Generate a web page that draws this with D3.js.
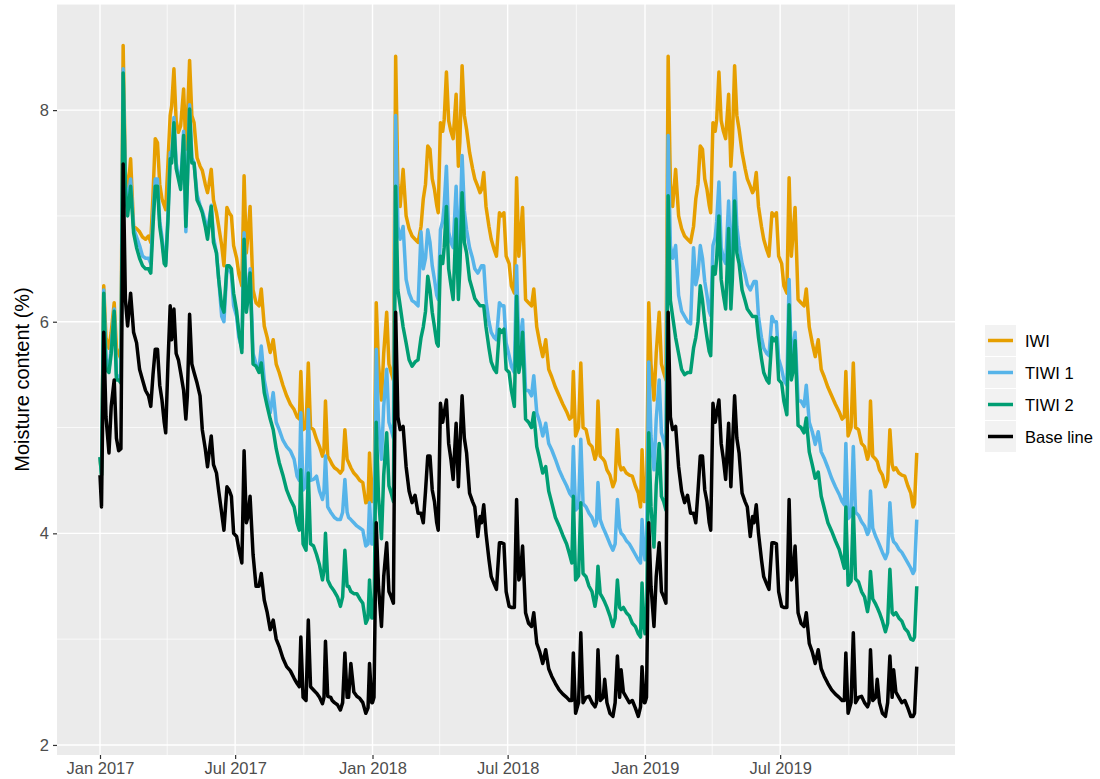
<!DOCTYPE html>
<html><head><meta charset="utf-8">
<script src="https://cdn.jsdelivr.net/npm/d3@7"></script>
<style>
body{margin:0;background:#fff;}
svg{display:block;}
text{font-family:"Liberation Sans",Arial,Helvetica,sans-serif;}
</style>
</head><body>
<svg id="chart" width="1100" height="779"></svg>
<script>
// ---------------- DATA ----------------
const seriesNames = ["IWI", "TIWI 1", "TIWI 2", "Base line"];
const years = [2017, 2018, 2019];
// sampled days of year (0 = Jan 1), shared by every year
const dayOfYear = [0,2,5,8,12,15,19,22,25,28,31,34,37,41,45,49,53,57,61,65,68,71,74,77,80,83,86,88,91,94,96,99,102,105,108,112,115,117,120,123,126,130,134,137,141,144,146,149,152,156,159,163,166,170,173,176,179,183,186,190,193,196,198,201,205,209,213,216,220,224,228,232,236,240,245,250,255,260,264,267,269,272,276,279,282,286,290,294,298,300,302,305,309,311,314,318,322,325,328,331,333,336,340,344,348,352,356,359,361,364];

const iwi = [
// 2017
4.72,4.55,6.34,5.85,5.75,5.90,6.18,5.75,5.70,5.65,
8.61,7.41,7.20,7.54,6.90,6.88,6.85,6.80,6.78,6.81,
6.75,7.20,7.73,7.69,7.30,7.16,7.10,7.06,7.50,7.95,
8.04,8.39,7.90,7.79,7.85,8.20,7.63,7.90,8.47,7.95,
7.88,7.55,7.47,7.43,7.30,7.22,7.30,7.44,7.15,7.03,
6.90,6.72,6.53,7.08,7.03,7.00,6.72,6.60,6.45,6.34,
7.38,6.65,6.80,7.09,6.30,6.18,6.15,6.31,5.96,5.85,
5.71,5.83,5.60,5.52,5.40,5.30,5.22,5.17,5.10,5.08,
5.53,4.98,5.00,5.61,5.00,4.98,4.89,4.82,4.73,4.80,
5.25,4.73,4.68,4.65,4.62,4.60,4.57,4.60,4.98,4.70,
4.67,4.62,4.57,4.54,4.50,4.48,4.29,4.30,4.76,4.30,
// 2018
4.30,4.35,6.18,5.60,5.26,5.70,6.09,5.60,5.52,5.45,
8.51,7.30,7.09,7.44,7.00,6.88,6.81,6.78,6.75,6.90,
7.16,7.30,7.66,7.63,7.35,7.25,7.10,7.03,7.88,7.80,
7.91,8.36,7.90,7.80,7.73,8.15,7.47,7.70,8.42,7.95,
7.82,7.60,7.45,7.35,7.28,7.22,7.25,7.41,7.09,6.90,
6.78,6.68,6.62,7.03,7.00,7.03,6.62,6.55,6.34,6.27,
7.36,6.62,6.80,7.08,6.21,6.18,6.15,6.31,5.95,5.80,
5.67,5.83,5.55,5.48,5.38,5.30,5.22,5.15,5.08,5.10,
5.53,4.92,5.00,5.61,5.00,4.98,4.85,4.82,4.70,4.75,
5.25,4.73,4.70,4.68,4.60,4.55,4.44,4.50,4.98,4.65,
4.60,4.62,4.57,4.55,4.54,4.45,4.38,4.25,4.79,4.30,
// 2019
4.30,4.35,6.18,5.60,5.26,5.70,6.09,5.60,5.52,5.45,
8.51,7.30,7.09,7.44,7.00,6.88,6.81,6.78,6.75,6.90,
7.16,7.30,7.66,7.63,7.35,7.25,7.10,7.03,7.88,7.80,
7.91,8.36,7.90,7.80,7.73,8.15,7.47,7.70,8.42,7.95,
7.82,7.60,7.45,7.35,7.28,7.22,7.25,7.41,7.09,6.90,
6.78,6.68,6.62,7.03,7.00,7.03,6.62,6.55,6.34,6.27,
7.36,6.62,6.80,7.08,6.21,6.18,6.15,6.31,5.95,5.80,
5.67,5.83,5.55,5.48,5.38,5.30,5.22,5.15,5.08,5.10,
5.53,4.92,5.00,5.61,5.00,4.98,4.85,4.82,4.70,4.75,
5.25,4.73,4.70,4.68,4.60,4.55,4.44,4.50,4.98,4.65,
4.60,4.62,4.57,4.55,4.54,4.45,4.38,4.25,4.28,4.76
];

const tiwi1 = [
// 2017
4.72,4.55,6.30,5.65,5.55,5.75,6.12,5.50,5.48,5.45,
8.39,7.32,7.10,7.35,6.88,6.80,6.72,6.62,6.60,6.60,
6.55,7.00,7.35,7.35,6.95,6.80,6.60,6.55,7.00,7.60,
7.55,7.93,7.50,7.38,7.30,7.80,6.85,7.30,8.05,7.55,
7.50,7.20,7.10,7.05,6.95,6.85,6.95,7.10,6.80,6.65,
6.40,6.05,6.00,6.50,6.50,6.45,6.15,6.05,5.85,5.75,
6.84,6.20,6.30,6.50,5.70,5.60,5.55,5.77,5.45,5.30,
5.14,5.33,5.05,4.98,4.88,4.82,4.78,4.70,4.54,4.50,
5.14,4.41,4.45,5.17,4.50,4.51,4.54,4.40,4.32,4.40,
4.73,4.25,4.20,4.18,4.15,4.13,4.13,4.20,4.51,4.20,
4.15,4.13,4.10,4.07,4.05,4.03,3.88,3.90,4.29,3.90,
// 2018
3.90,3.95,5.74,5.05,4.70,5.20,5.55,5.05,4.98,4.90,
7.95,6.90,6.78,6.90,6.40,6.27,6.20,6.18,6.15,6.85,
6.50,6.60,6.87,6.75,6.53,6.40,6.25,6.21,6.87,6.95,
7.10,7.47,6.85,6.75,6.70,7.28,6.65,6.85,7.57,7.05,
6.87,6.70,6.60,6.50,6.46,6.50,6.53,6.53,6.20,6.00,
5.90,5.85,5.83,6.18,6.15,6.15,5.80,5.68,5.58,5.52,
6.53,5.75,5.85,6.02,5.35,5.35,5.30,5.49,5.14,5.05,
4.92,5.04,4.85,4.79,4.70,4.60,4.52,4.45,4.38,4.35,
4.82,4.22,4.25,4.89,4.28,4.25,4.19,4.15,4.07,4.10,
4.48,4.13,4.05,4.02,3.97,3.90,3.84,3.90,4.32,4.05,
4.00,3.98,3.93,3.90,3.85,3.80,3.75,3.72,4.13,3.80,
// 2019
3.75,3.80,5.62,4.92,4.60,5.08,5.45,4.95,4.88,4.80,
7.76,6.72,6.60,6.72,6.25,6.10,6.05,6.00,5.98,6.70,
6.35,6.45,6.72,6.60,6.38,6.25,6.10,6.06,6.72,6.80,
6.95,7.32,6.70,6.60,6.55,7.14,6.50,6.70,7.41,6.90,
6.72,6.55,6.45,6.35,6.30,6.35,6.38,6.38,6.05,5.85,
5.75,5.70,5.68,6.05,6.00,6.00,5.65,5.55,5.45,5.40,
6.40,5.62,5.72,5.90,5.25,5.25,5.20,5.40,5.05,4.96,
4.84,4.96,4.77,4.71,4.62,4.52,4.44,4.37,4.30,4.27,
4.85,4.14,4.17,4.82,4.20,4.17,4.11,4.07,3.99,4.02,
4.40,4.05,3.97,3.94,3.89,3.82,3.76,3.82,4.29,3.97,
3.92,3.90,3.85,3.82,3.77,3.72,3.67,3.62,3.65,4.13
];

const tiwi2 = [
// 2017
4.72,4.55,6.27,5.55,5.52,5.70,6.10,5.45,5.45,5.42,
8.35,7.25,7.00,7.28,6.84,6.70,6.60,6.53,6.50,6.50,
6.46,6.90,7.28,7.28,6.90,6.75,6.55,6.53,6.95,7.54,
7.50,7.88,7.45,7.35,7.25,7.76,6.90,7.30,8.01,7.50,
7.50,7.15,7.09,7.03,6.90,6.78,6.90,7.09,6.75,6.65,
6.40,6.15,6.09,6.53,6.53,6.50,6.27,6.10,5.90,5.71,
6.78,6.09,6.20,6.46,5.60,5.58,5.52,5.61,5.33,5.20,
5.08,4.98,4.80,4.67,4.55,4.41,4.32,4.25,4.10,4.03,
4.60,3.90,3.84,4.57,3.90,3.88,3.80,3.70,3.56,3.65,
4.00,3.56,3.50,3.48,3.45,3.40,3.31,3.40,3.84,3.50,
3.50,3.45,3.43,3.43,3.38,3.34,3.15,3.20,3.56,3.20,
// 2018
3.20,3.25,5.05,4.35,3.95,4.55,4.95,4.45,4.38,4.30,
7.28,6.30,6.15,5.95,5.80,5.64,5.58,5.62,5.64,5.85,
5.95,6.10,6.43,6.30,6.09,5.95,5.80,5.77,6.62,6.55,
6.70,7.09,6.50,6.35,6.21,6.97,6.21,6.50,7.22,6.75,
6.65,6.40,6.30,6.22,6.18,6.15,6.15,6.15,5.95,5.75,
5.62,5.55,5.52,5.93,5.90,5.93,5.55,5.52,5.35,5.20,
6.24,5.52,5.60,5.90,5.08,5.05,5.00,5.14,4.82,4.70,
4.57,4.63,4.40,4.29,4.15,4.07,3.98,3.90,3.80,3.72,
4.35,3.56,3.60,4.29,3.62,3.59,3.50,3.45,3.31,3.40,
3.69,3.43,3.38,3.35,3.30,3.22,3.12,3.20,3.56,3.30,
3.28,3.30,3.25,3.22,3.15,3.12,3.05,3.02,3.53,3.10,
// 2019
3.05,3.10,4.95,4.25,3.87,4.45,4.85,4.35,4.30,4.22,
7.19,6.20,6.05,5.85,5.70,5.55,5.50,5.52,5.52,5.75,
5.85,6.00,6.34,6.20,6.00,5.85,5.72,5.68,6.52,6.45,
6.60,7.00,6.40,6.25,6.12,6.88,6.12,6.40,7.14,6.65,
6.55,6.30,6.20,6.12,6.08,6.05,6.05,6.05,5.85,5.65,
5.52,5.45,5.42,5.85,5.82,5.85,5.45,5.42,5.25,5.12,
6.16,5.45,5.52,5.82,5.02,5.00,4.95,5.09,4.77,4.65,
4.52,4.58,4.35,4.24,4.10,4.02,3.93,3.85,3.75,3.67,
4.25,3.51,3.55,4.24,3.57,3.54,3.45,3.40,3.26,3.35,
3.64,3.38,3.33,3.30,3.25,3.17,3.07,3.15,3.66,3.25,
3.23,3.25,3.20,3.17,3.10,3.07,3.00,2.99,3.02,3.50
];

const baseLine = [
// 2017
4.55,4.25,5.90,5.10,4.76,5.20,5.45,4.90,4.78,4.80,
7.49,6.21,5.96,6.27,5.90,5.80,5.55,5.45,5.35,5.30,
5.20,5.50,5.74,5.74,5.40,5.26,5.05,4.95,5.60,6.15,
5.83,6.12,5.70,5.64,5.52,5.35,5.08,5.30,6.07,5.60,
5.52,5.42,5.30,4.98,4.80,4.63,4.75,4.92,4.65,4.57,
4.40,4.19,4.03,4.44,4.41,4.35,4.00,3.97,3.85,3.72,
4.78,4.10,4.15,4.35,3.80,3.50,3.50,3.62,3.37,3.25,
3.09,3.18,3.00,2.93,2.82,2.74,2.70,2.63,2.58,2.55,
3.02,2.45,2.42,3.18,2.55,2.52,2.49,2.45,2.39,2.45,
2.98,2.46,2.45,2.42,2.40,2.38,2.33,2.40,2.87,2.45,
2.45,2.77,2.50,2.46,2.44,2.40,2.30,2.35,2.77,2.40,
// 2018
2.40,2.45,4.10,3.50,3.12,3.59,3.91,3.45,3.40,3.34,
6.09,5.10,4.98,5.01,4.63,4.40,4.29,4.36,4.19,4.19,
4.10,4.40,4.73,4.73,4.41,4.30,4.10,4.03,5.23,5.05,
5.14,5.26,4.85,4.70,4.51,5.04,4.44,4.80,5.30,4.90,
4.76,4.38,4.30,4.25,3.97,4.16,4.10,4.27,4.00,3.75,
3.59,3.52,3.47,3.91,3.91,3.90,3.45,3.31,3.30,3.30,
4.32,3.56,3.60,3.88,3.25,3.15,3.12,3.25,2.96,2.88,
2.77,2.90,2.72,2.65,2.58,2.52,2.48,2.45,2.42,2.42,
2.87,2.30,2.40,3.06,2.40,2.45,2.46,2.40,2.36,2.40,
2.90,2.42,2.45,2.62,2.40,2.30,2.27,2.40,2.84,2.45,
2.71,2.50,2.45,2.40,2.42,2.35,2.27,2.36,2.74,2.40,
// 2019
2.40,2.45,4.10,3.50,3.12,3.59,3.91,3.45,3.40,3.34,
6.09,5.10,4.98,5.01,4.63,4.40,4.29,4.36,4.19,4.19,
4.10,4.40,4.73,4.73,4.41,4.30,4.10,4.03,5.23,5.05,
5.14,5.26,4.85,4.70,4.51,5.04,4.44,4.80,5.30,4.90,
4.76,4.38,4.30,4.25,3.97,4.16,4.10,4.27,4.00,3.75,
3.59,3.52,3.47,3.91,3.91,3.90,3.45,3.31,3.30,3.30,
4.32,3.56,3.60,3.88,3.25,3.15,3.12,3.25,2.96,2.88,
2.77,2.90,2.72,2.65,2.58,2.52,2.48,2.45,2.42,2.42,
2.87,2.30,2.40,3.06,2.40,2.45,2.46,2.40,2.36,2.40,
2.90,2.42,2.45,2.62,2.40,2.30,2.27,2.40,2.84,2.45,
2.71,2.50,2.45,2.40,2.42,2.35,2.27,2.27,2.30,2.74
];

const xTickDates = ["2017-01-01","2017-07-01","2018-01-01","2018-07-01","2019-01-01","2019-07-01"];
const xTickLabels = ["Jan 2017","Jul 2017","Jan 2018","Jul 2018","Jan 2019","Jul 2019"];
const xMinorDates = ["2017-04-01","2017-10-01","2018-04-01","2018-10-01","2019-04-01","2019-10-01","2020-01-01"];
const yTicks = [2, 4, 6, 8];
const yMinor = [3, 5, 7, 9];
const yTitle = "Moisture content (%)";

// ---------------- STYLE ----------------
const colors = ["#E69F00", "#56B4E9", "#009E73", "#000000"];
const panel = {left: 57, right: 955, top: 4, bottom: 755};

// ---------------- BUILD ----------------
const dates = years.flatMap(yr => dayOfYear.map(d => new Date(Date.UTC(yr, 0, 1) + d * 864e5)));
const allSeries = [iwi, tiwi1, tiwi2, baseLine].map((vals, i) => ({
  name: seriesNames[i], color: colors[i],
  points: vals.map((v, j) => ({date: dates[j], value: v}))
}));

const svg = d3.select("#chart");
const t0 = Date.UTC(2017, 0, 1);
const x = d3.scaleUtc()
  .domain([new Date(t0 - 57.6 * 864e5), new Date(t0 + 1145.2 * 864e5)])
  .range([panel.left, panel.right]);
const y = d3.scaleLinear().domain([1.905, 9.003]).range([panel.bottom, panel.top]);

// panel background
svg.append("rect").attr("x", panel.left).attr("y", panel.top)
  .attr("width", panel.right - panel.left).attr("height", panel.bottom - panel.top)
  .attr("fill", "#EBEBEB");

const grid = svg.append("g");
yMinor.filter(v => v <= y.domain()[1]).forEach(v => grid.append("line")
  .attr("x1", panel.left).attr("x2", panel.right).attr("y1", y(v)).attr("y2", y(v))
  .attr("stroke", "#fff").attr("stroke-width", 0.7));
xMinorDates.map(s => new Date(s + "T00:00:00Z")).filter(d => x(d) < panel.right).forEach(d => grid.append("line")
  .attr("y1", panel.top).attr("y2", panel.bottom).attr("x1", x(d)).attr("x2", x(d))
  .attr("stroke", "#fff").attr("stroke-width", 0.7));
yTicks.forEach(v => grid.append("line")
  .attr("x1", panel.left).attr("x2", panel.right).attr("y1", y(v)).attr("y2", y(v))
  .attr("stroke", "#fff").attr("stroke-width", 1.4));
xTickDates.map(s => new Date(s + "T00:00:00Z")).forEach(d => grid.append("line")
  .attr("y1", panel.top).attr("y2", panel.bottom).attr("x1", x(d)).attr("x2", x(d))
  .attr("stroke", "#fff").attr("stroke-width", 1.4));

// lines
const line = d3.line().x(d => x(d.date)).y(d => y(d.value));
svg.append("g").selectAll("path").data(allSeries).join("path")
  .attr("d", d => line(d.points))
  .attr("fill", "none").attr("stroke", d => d.color)
  .attr("stroke-width", 3.5).attr("stroke-linejoin", "round");

// axes
const xAxis = d3.axisBottom(x)
  .tickValues(xTickDates.map(s => new Date(s + "T00:00:00Z")))
  .tickFormat((d, i) => xTickLabels[i]).tickSize(4).tickPadding(3);
const gx = svg.append("g").attr("transform", `translate(0,${panel.bottom})`).call(xAxis);
gx.select(".domain").remove();
gx.selectAll("line").attr("stroke", "#333").attr("stroke-width", 1.2);
gx.selectAll("text").attr("fill", "#4D4D4D").attr("font-size", 16.5).attr("font-family", "Liberation Sans, Arial, sans-serif");

const yAxis = d3.axisLeft(y).tickValues(yTicks).tickFormat(d3.format("d")).tickSize(4).tickPadding(4);
const gy = svg.append("g").attr("transform", `translate(${panel.left},0)`).call(yAxis);
gy.select(".domain").remove();
gy.selectAll("line").attr("stroke", "#333").attr("stroke-width", 1.2);
gy.selectAll("text").attr("fill", "#4D4D4D").attr("font-size", 16.5).attr("font-family", "Liberation Sans, Arial, sans-serif");

svg.append("text").attr("transform", `translate(22,${(panel.top + panel.bottom) / 2}) rotate(-90)`)
  .attr("text-anchor", "middle").attr("dominant-baseline", "central")
  .attr("font-size", 20).attr("fill", "#000").text(yTitle);

// legend
const leg = svg.append("g").attr("transform", "translate(985,325)");
allSeries.forEach((s, i) => {
  const g = leg.append("g").attr("transform", `translate(0,${i * 32})`);
  g.append("rect").attr("width", 31).attr("height", 31).attr("fill", "#F2F2F2");
  g.append("line").attr("x1", 3).attr("x2", 28).attr("y1", 15.5).attr("y2", 15.5)
    .attr("stroke", s.color).attr("stroke-width", 3.5);
  g.append("text").attr("x", 40).attr("y", 16).attr("dominant-baseline", "central")
    .attr("font-size", 16.5).attr("fill", "#000").text(s.name);
});
</script>
</body></html>
